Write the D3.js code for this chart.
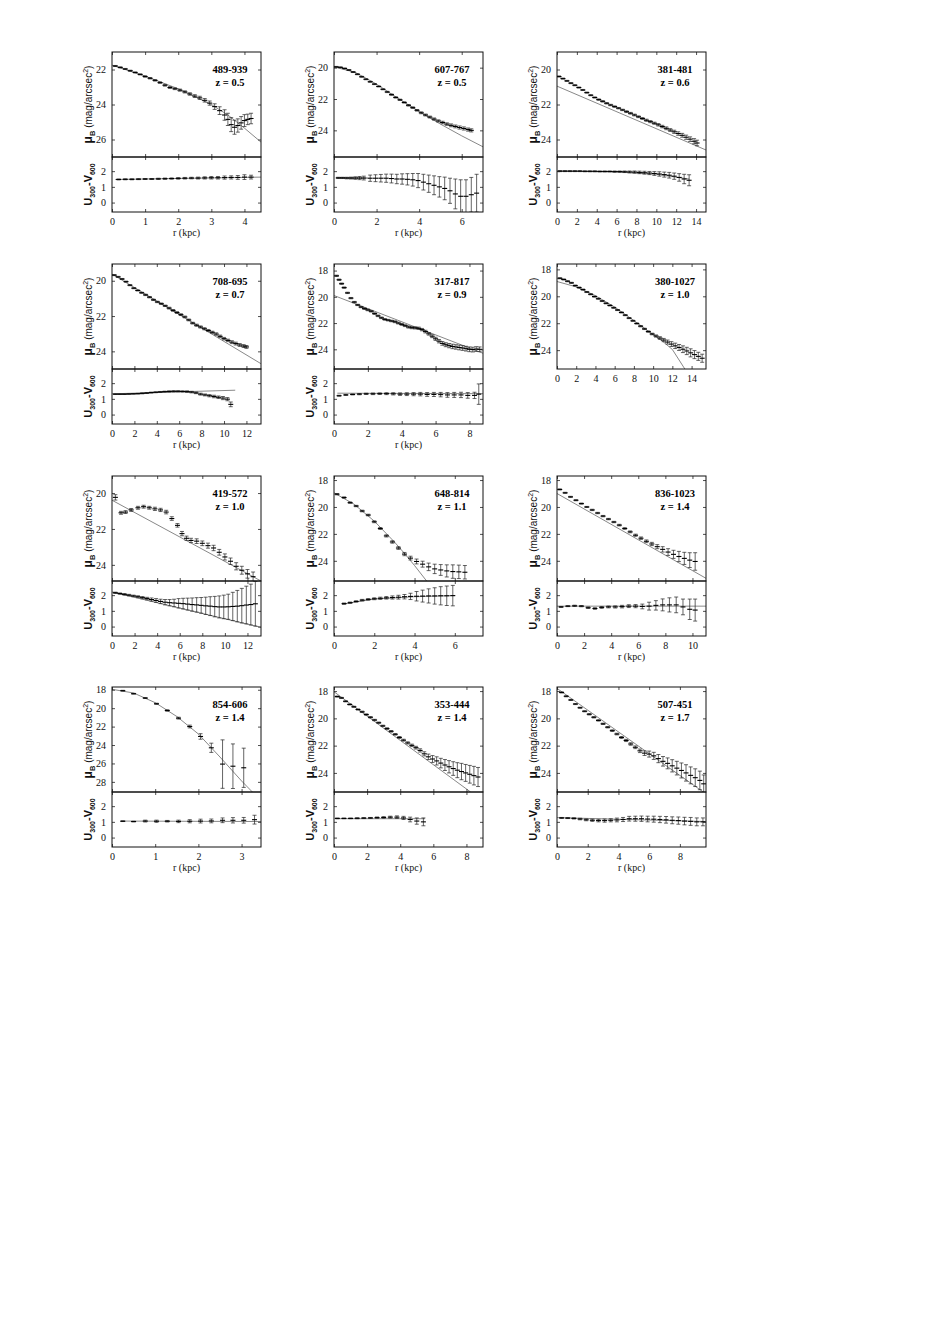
<!DOCTYPE html>
<html>
<head>
<meta charset="utf-8">
<script src="https://cdn.jsdelivr.net/npm/d3@7"></script>
<style>
  body { margin: 0; background: #fff; }
</style>
</head>
<body>
<svg id="main" width="926" height="1325"></svg>
<script>
// surface brightness profiles: [r (kpc), mu_B, error]
const prof489 = [[0.1,21.8,0.03],[0.25,21.88,0.03],[0.4,21.97,0.03],[0.55,22.07,0.03],[0.7,22.17,0.03],[0.85,22.28,0.03],[1.0,22.4,0.04],[1.15,22.5,0.04],[1.3,22.62,0.04],[1.45,22.75,0.04],[1.6,22.9,0.05],[1.75,23.03,0.05],[1.9,23.1,0.05],[2.05,23.18,0.06],[2.2,23.28,0.06],[2.35,23.4,0.07],[2.5,23.52,0.08],[2.65,23.62,0.09],[2.8,23.76,0.1],[2.95,23.92,0.12],[3.1,24.12,0.16],[3.25,24.35,0.22],[3.4,24.6,0.3],[3.5,24.85,0.35],[3.6,25.15,0.4],[3.7,25.3,0.4],[3.8,25.2,0.38],[3.9,25.05,0.36],[4.0,24.92,0.34],[4.1,24.85,0.3],[4.2,24.8,0.3]];
const prof607 = [[0.1,19.95,0.03],[0.3,19.98,0.03],[0.5,20.05,0.03],[0.7,20.15,0.03],[0.9,20.28,0.03],[1.1,20.42,0.03],[1.3,20.58,0.03],[1.5,20.74,0.03],[1.7,20.9,0.03],[1.9,21.05,0.03],[2.1,21.2,0.03],[2.3,21.38,0.03],[2.5,21.55,0.04],[2.7,21.72,0.04],[2.9,21.9,0.04],[3.1,22.05,0.04],[3.3,22.22,0.04],[3.5,22.4,0.05],[3.7,22.55,0.05],[3.9,22.72,0.05],[4.1,22.88,0.06],[4.3,23.02,0.06],[4.5,23.15,0.06],[4.7,23.28,0.07],[4.9,23.4,0.07],[5.1,23.5,0.08],[5.3,23.6,0.08],[5.5,23.68,0.09],[5.7,23.75,0.09],[5.9,23.82,0.1],[6.1,23.88,0.1],[6.3,23.95,0.1],[6.45,24.0,0.1]];
const prof381 = [[0.2,20.4,0.03],[0.6,20.52,0.03],[1.0,20.65,0.03],[1.4,20.78,0.03],[1.8,20.9,0.03],[2.2,21.03,0.03],[2.6,21.17,0.03],[3.0,21.32,0.03],[3.4,21.47,0.03],[3.8,21.6,0.03],[4.2,21.72,0.04],[4.6,21.82,0.04],[5.0,21.93,0.04],[5.4,22.03,0.04],[5.8,22.12,0.04],[6.2,22.21,0.04],[6.6,22.31,0.04],[7.0,22.41,0.05],[7.4,22.5,0.05],[7.8,22.6,0.05],[8.2,22.7,0.05],[8.6,22.8,0.05],[9.0,22.9,0.06],[9.4,22.98,0.06],[9.8,23.07,0.06],[10.2,23.16,0.07],[10.6,23.26,0.07],[11.0,23.36,0.08],[11.4,23.46,0.08],[11.8,23.56,0.09],[12.2,23.66,0.1],[12.6,23.76,0.11],[13.0,23.87,0.12],[13.4,23.98,0.13],[13.8,24.1,0.15],[14.1,24.2,0.16]];
const prof708 = [[0.2,19.68,0.03],[0.55,19.78,0.03],[0.9,19.9,0.03],[1.25,20.05,0.03],[1.6,20.25,0.03],[1.95,20.42,0.03],[2.3,20.55,0.03],[2.65,20.68,0.03],[3.0,20.8,0.04],[3.35,20.93,0.04],[3.7,21.08,0.04],[4.05,21.2,0.04],[4.4,21.3,0.04],[4.75,21.42,0.04],[5.1,21.55,0.05],[5.45,21.68,0.05],[5.8,21.8,0.05],[6.15,21.92,0.05],[6.5,22.05,0.05],[6.85,22.22,0.05],[7.2,22.4,0.05],[7.55,22.52,0.06],[7.9,22.62,0.06],[8.25,22.72,0.06],[8.6,22.82,0.06],[8.95,22.92,0.06],[9.3,23.02,0.07],[9.65,23.15,0.07],[10.0,23.28,0.07],[10.35,23.38,0.07],[10.7,23.48,0.08],[11.05,23.56,0.08],[11.4,23.64,0.08],[11.75,23.7,0.08],[12.0,23.75,0.08]];
const prof317 = [[0.15,18.4,0.05],[0.3,18.7,0.05],[0.45,19.0,0.05],[0.6,19.3,0.05],[0.8,19.7,0.05],[1.0,20.1,0.05],[1.2,20.4,0.05],[1.4,20.62,0.05],[1.6,20.78,0.05],[1.8,20.9,0.06],[2.0,21.0,0.06],[2.2,21.1,0.06],[2.4,21.28,0.06],[2.6,21.45,0.06],[2.8,21.6,0.06],[3.0,21.72,0.06],[3.2,21.78,0.06],[3.4,21.84,0.06],[3.6,21.9,0.07],[3.8,22.0,0.07],[4.0,22.1,0.07],[4.2,22.2,0.07],[4.4,22.3,0.08],[4.6,22.35,0.08],[4.8,22.37,0.08],[5.0,22.4,0.09],[5.2,22.5,0.09],[5.4,22.65,0.1],[5.6,22.82,0.1],[5.8,23.0,0.11],[6.0,23.2,0.12],[6.2,23.38,0.13],[6.4,23.55,0.14],[6.6,23.65,0.15],[6.8,23.72,0.16],[7.0,23.78,0.17],[7.2,23.82,0.17],[7.4,23.86,0.18],[7.6,23.9,0.18],[7.8,23.95,0.18],[8.0,24.0,0.18],[8.2,24.02,0.18],[8.4,23.98,0.18],[8.6,24.0,0.18]];
const prof380 = [[0.3,18.66,0.04],[0.7,18.75,0.04],[1.1,18.88,0.04],[1.5,19.0,0.04],[1.9,19.2,0.04],[2.3,19.35,0.04],[2.7,19.5,0.04],[3.1,19.68,0.04],[3.5,19.85,0.04],[3.9,20.02,0.04],[4.3,20.18,0.04],[4.7,20.35,0.04],[5.1,20.52,0.04],[5.5,20.68,0.04],[5.9,20.85,0.04],[6.3,21.02,0.04],[6.7,21.2,0.04],[7.1,21.4,0.04],[7.5,21.62,0.04],[7.9,21.82,0.04],[8.3,22.02,0.04],[8.7,22.22,0.05],[9.1,22.42,0.05],[9.5,22.62,0.05],[9.9,22.8,0.06],[10.3,22.95,0.08],[10.7,23.1,0.1],[11.1,23.25,0.12],[11.5,23.4,0.15],[11.9,23.55,0.18],[12.3,23.68,0.2],[12.7,23.8,0.22],[13.1,23.93,0.25],[13.5,24.06,0.27],[13.9,24.2,0.3],[14.3,24.33,0.3],[14.7,24.46,0.3],[15.1,24.6,0.3]];
const prof419 = [[0.3,20.24,0.15],[0.8,21.1,0.08],[1.2,21.06,0.08],[1.7,20.94,0.08],[2.3,20.82,0.08],[2.8,20.76,0.08],[3.3,20.82,0.08],[3.8,20.88,0.09],[4.3,20.94,0.09],[4.8,21.06,0.1],[5.3,21.42,0.1],[5.8,21.8,0.1],[6.2,22.26,0.12],[6.6,22.52,0.12],[7.0,22.64,0.12],[7.5,22.68,0.13],[8.0,22.8,0.13],[8.5,22.93,0.14],[9.0,23.06,0.15],[9.5,23.3,0.16],[10.0,23.56,0.17],[10.5,23.8,0.18],[11.0,24.08,0.2],[11.5,24.3,0.22],[12.0,24.5,0.24],[12.5,24.66,0.26]];
const prof648 = [[0.15,19.05,0.05],[0.5,19.3,0.05],[0.8,19.68,0.05],[1.1,19.93,0.05],[1.4,20.3,0.06],[1.7,20.6,0.06],[2.0,21.1,0.07],[2.3,21.6,0.07],[2.6,22.15,0.08],[2.9,22.6,0.09],[3.2,23.05,0.1],[3.5,23.5,0.12],[3.8,23.8,0.14],[4.1,24.05,0.18],[4.4,24.25,0.22],[4.7,24.45,0.28],[5.0,24.6,0.35],[5.3,24.68,0.4],[5.6,24.75,0.45],[5.9,24.8,0.5],[6.2,24.82,0.5],[6.5,24.85,0.5]];
const prof836 = [[0.2,18.7,0.04],[0.6,18.95,0.04],[1.0,19.25,0.04],[1.4,19.5,0.04],[1.8,19.75,0.04],[2.2,20.0,0.04],[2.6,20.22,0.05],[3.0,20.45,0.05],[3.4,20.68,0.05],[3.8,20.9,0.05],[4.2,21.12,0.05],[4.6,21.35,0.06],[5.0,21.6,0.06],[5.4,21.85,0.07],[5.8,22.1,0.08],[6.2,22.32,0.09],[6.6,22.55,0.1],[7.0,22.75,0.12],[7.4,22.95,0.15],[7.8,23.15,0.2],[8.2,23.35,0.25],[8.6,23.52,0.3],[9.0,23.68,0.38],[9.4,23.82,0.45],[9.8,23.95,0.55],[10.2,24.05,0.65]];
const prof854 = [[0.25,18.1,0.04],[0.5,18.43,0.04],[0.77,18.9,0.05],[1.03,19.52,0.06],[1.28,20.25,0.08],[1.54,21.08,0.1],[1.8,21.99,0.15],[2.05,23.07,0.3],[2.3,24.3,0.5],[2.56,26.07,2.63],[2.8,26.3,2.42],[3.05,26.47,2.13]];
const prof353 = [[0.2,18.4,0.04],[0.45,18.5,0.04],[0.7,18.75,0.04],[0.95,18.98,0.04],[1.2,19.15,0.04],[1.45,19.35,0.04],[1.7,19.52,0.05],[1.95,19.72,0.05],[2.2,19.92,0.05],[2.45,20.12,0.05],[2.7,20.32,0.05],[2.95,20.55,0.05],[3.2,20.75,0.06],[3.45,20.95,0.06],[3.7,21.17,0.06],[3.95,21.4,0.07],[4.2,21.6,0.07],[4.45,21.8,0.08],[4.7,21.98,0.09],[4.95,22.15,0.1],[5.2,22.35,0.12],[5.45,22.6,0.15],[5.7,22.82,0.2],[5.95,22.98,0.25],[6.2,23.12,0.3],[6.45,23.28,0.35],[6.7,23.42,0.4],[6.95,23.55,0.45],[7.2,23.68,0.5],[7.45,23.8,0.55],[7.7,23.9,0.6],[7.95,24.0,0.62],[8.2,24.1,0.65],[8.45,24.2,0.68],[8.7,24.3,0.7]];
const prof507 = [[0.3,18.1,0.04],[0.6,18.38,0.04],[0.9,18.65,0.04],[1.2,18.95,0.04],[1.5,19.22,0.04],[1.8,19.48,0.04],[2.1,19.7,0.05],[2.4,19.92,0.05],[2.7,20.15,0.05],[3.0,20.4,0.05],[3.3,20.65,0.05],[3.6,20.9,0.06],[3.9,21.15,0.06],[4.2,21.4,0.07],[4.5,21.62,0.08],[4.8,21.88,0.09],[5.1,22.12,0.1],[5.4,22.38,0.13],[5.7,22.55,0.17],[6.0,22.62,0.22],[6.3,22.75,0.26],[6.6,22.95,0.3],[6.9,23.15,0.35],[7.2,23.3,0.4],[7.5,23.48,0.45],[7.8,23.65,0.5],[8.1,23.82,0.55],[8.4,24.0,0.6],[8.7,24.18,0.62],[9.0,24.35,0.65],[9.3,24.55,0.68],[9.55,24.8,0.65]];

// model fits to the profiles: [r, mu_B]
const fit489 = [[0,21.75],[1,22.38],[2,23.1],[3,24.0],[3.5,24.6],[4,25.35],[4.5,26.15]];
const fit607 = [[0,19.95],[1,20.3],[2,21.05],[3,21.95],[4,22.8],[5,23.6],[6,24.35],[7,25.05]];
const fit381 = [[0,20.95],[15,24.6]];
const fit708 = [[0,19.62],[13.3,24.7]];
const fit317 = [[0,19.9],[8.8,24.3]];
const fit380 = [[0,18.9],[2,19.3],[4,19.95],[6,20.8],[8,21.8],[10,22.85],[11,23.35],[12,23.95],[13.3,25.4]];
const fit419 = [[0,20.4],[13.2,24.9]];
const fit648 = [[0,18.95],[1,19.8],[2,21.05],[3,22.6],[3.5,23.45],[4,24.35],[4.6,25.5]];
const fit836 = [[0,19.0],[11,25.3]];
const fit854 = [[0,17.95],[0.5,18.35],[1,19.4],[1.5,20.9],[2,22.8],[2.5,25.3],[3,27.9],[3.25,29.1]];
const fit353 = [[0,18.05],[8.25,25.4]];
const fit507 = [[0,17.8],[9.55,25.42]];

// colour profiles U300-V600: [r, colour, error]
const col489 = [[0.2,1.47,0.03],[0.4,1.48,0.03],[0.6,1.48,0.03],[0.8,1.49,0.03],[1.0,1.5,0.03],[1.2,1.5,0.03],[1.4,1.51,0.04],[1.6,1.52,0.04],[1.8,1.53,0.04],[2.0,1.54,0.05],[2.2,1.55,0.05],[2.4,1.56,0.05],[2.6,1.56,0.06],[2.8,1.57,0.07],[3.0,1.58,0.08],[3.2,1.58,0.08],[3.4,1.59,0.1],[3.6,1.6,0.1],[3.8,1.6,0.12],[4.0,1.62,0.15],[4.2,1.62,0.12]];
const col607 = [[0.2,1.57,0.04],[0.4,1.57,0.04],[0.6,1.56,0.05],[0.8,1.56,0.06],[1.0,1.56,0.08],[1.2,1.56,0.1],[1.4,1.56,0.12],[1.7,1.55,0.2],[1.95,1.55,0.22],[2.2,1.55,0.24],[2.45,1.55,0.26],[2.7,1.53,0.28],[2.95,1.5,0.3],[3.2,1.5,0.33],[3.45,1.48,0.36],[3.7,1.45,0.4],[3.95,1.4,0.45],[4.2,1.3,0.5],[4.45,1.2,0.55],[4.7,1.1,0.6],[4.95,1.0,0.65],[5.2,0.9,0.72],[5.45,0.75,0.8],[5.7,0.55,0.95],[5.95,0.4,1.05],[6.2,0.4,1.05],[6.45,0.5,1.1],[6.7,0.6,1.2]];
const col381 = [[0.3,2.0,0.03],[0.8,2.0,0.03],[1.3,2.0,0.03],[1.8,2.0,0.03],[2.3,2.0,0.03],[2.8,1.99,0.03],[3.3,1.99,0.03],[3.8,1.99,0.03],[4.3,1.98,0.03],[4.8,1.98,0.03],[5.3,1.98,0.03],[5.8,1.97,0.04],[6.3,1.97,0.04],[6.8,1.96,0.05],[7.3,1.95,0.06],[7.8,1.94,0.07],[8.3,1.92,0.08],[8.8,1.9,0.09],[9.3,1.88,0.1],[9.8,1.85,0.12],[10.3,1.82,0.14],[10.8,1.78,0.16],[11.3,1.74,0.18],[11.8,1.68,0.2],[12.3,1.6,0.24],[12.8,1.5,0.3],[13.3,1.42,0.35]];
const col708 = [[0.3,1.3,0.02],[0.7,1.3,0.02],[1.1,1.3,0.02],[1.5,1.31,0.02],[1.9,1.32,0.02],[2.3,1.33,0.02],[2.7,1.35,0.03],[3.1,1.37,0.03],[3.5,1.4,0.03],[3.9,1.42,0.03],[4.3,1.44,0.03],[4.7,1.46,0.03],[5.1,1.47,0.04],[5.5,1.48,0.04],[5.9,1.48,0.04],[6.3,1.47,0.04],[6.7,1.46,0.05],[7.1,1.43,0.05],[7.5,1.38,0.05],[7.9,1.3,0.06],[8.3,1.25,0.06],[8.7,1.2,0.07],[9.1,1.15,0.08],[9.5,1.1,0.08],[9.9,1.05,0.1],[10.3,0.98,0.1],[10.6,0.65,0.15]];
const col317 = [[0.3,1.2,0.03],[0.7,1.25,0.03],[1.1,1.28,0.03],[1.5,1.3,0.04],[1.9,1.32,0.04],[2.3,1.32,0.05],[2.7,1.33,0.05],[3.1,1.33,0.06],[3.5,1.32,0.07],[3.9,1.3,0.08],[4.3,1.3,0.09],[4.7,1.3,0.1],[5.1,1.3,0.11],[5.5,1.28,0.12],[5.9,1.28,0.13],[6.3,1.27,0.14],[6.7,1.25,0.15],[7.1,1.25,0.16],[7.5,1.25,0.17],[7.9,1.22,0.18],[8.3,1.22,0.2],[8.55,1.3,0.65]];
const col419 = [[0.3,2.15,0.04],[0.7,2.1,0.04],[1.1,2.05,0.05],[1.5,2.0,0.05],[1.9,1.95,0.05],[2.3,1.9,0.06],[2.7,1.84,0.07],[3.1,1.78,0.08],[3.5,1.72,0.1],[3.9,1.66,0.12],[4.3,1.6,0.14],[4.7,1.55,0.17],[5.1,1.52,0.2],[5.5,1.5,0.24],[5.9,1.48,0.3],[6.3,1.46,0.34],[6.7,1.43,0.38],[7.1,1.4,0.42],[7.5,1.38,0.46],[7.9,1.35,0.5],[8.3,1.32,0.55],[8.7,1.3,0.6],[9.1,1.27,0.65],[9.5,1.25,0.7],[9.9,1.25,0.75],[10.3,1.26,0.8],[10.7,1.28,0.9],[11.1,1.3,1.0],[11.5,1.33,1.1],[11.9,1.37,1.2],[12.3,1.4,1.3],[12.7,1.45,1.42]];
const col648 = [[0.5,1.46,0.04],[0.8,1.52,0.04],[1.1,1.6,0.04],[1.4,1.68,0.05],[1.7,1.73,0.05],[2.0,1.77,0.06],[2.3,1.8,0.07],[2.6,1.83,0.08],[2.9,1.85,0.1],[3.2,1.87,0.12],[3.5,1.9,0.14],[3.8,1.92,0.2],[4.1,1.93,0.3],[4.4,1.94,0.38],[4.7,1.95,0.45],[5.0,1.95,0.52],[5.3,1.96,0.58],[5.6,1.96,0.62],[5.9,1.97,0.65]];
const col836 = [[0.3,1.25,0.03],[0.8,1.3,0.03],[1.3,1.32,0.04],[1.8,1.3,0.04],[2.3,1.2,0.05],[2.8,1.15,0.05],[3.3,1.22,0.06],[3.8,1.25,0.06],[4.3,1.25,0.07],[4.8,1.27,0.08],[5.3,1.3,0.09],[5.8,1.3,0.1],[6.3,1.28,0.15],[6.8,1.3,0.25],[7.3,1.35,0.3],[7.8,1.38,0.38],[8.3,1.38,0.45],[8.8,1.38,0.5],[9.3,1.25,0.5],[9.8,1.1,0.65],[10.2,1.05,0.7]];
const col854 = [[0.25,1.04,0.02],[0.5,1.02,0.02],[0.77,1.05,0.06],[1.03,1.04,0.07],[1.28,1.04,0.05],[1.54,1.03,0.08],[1.8,1.04,0.1],[2.05,1.05,0.12],[2.3,1.06,0.12],[2.56,1.1,0.15],[2.8,1.1,0.17],[3.05,1.1,0.18],[3.3,1.14,0.28]];
const col353 = [[0.2,1.22,0.02],[0.6,1.22,0.02],[1.0,1.22,0.02],[1.4,1.23,0.03],[1.8,1.24,0.03],[2.2,1.25,0.03],[2.6,1.27,0.04],[3.0,1.28,0.05],[3.4,1.3,0.06],[3.8,1.3,0.08],[4.2,1.25,0.1],[4.6,1.15,0.15],[5.0,1.05,0.2],[5.4,1.0,0.25]];
const col507 = [[0.3,1.25,0.03],[0.7,1.24,0.03],[1.1,1.22,0.04],[1.5,1.18,0.05],[1.9,1.13,0.06],[2.3,1.1,0.07],[2.7,1.08,0.08],[3.1,1.08,0.1],[3.5,1.1,0.1],[3.9,1.12,0.12],[4.3,1.15,0.13],[4.7,1.2,0.15],[5.1,1.2,0.16],[5.5,1.2,0.17],[5.9,1.18,0.18],[6.3,1.17,0.19],[6.7,1.15,0.2],[7.1,1.13,0.21],[7.5,1.1,0.22],[7.9,1.08,0.23],[8.3,1.05,0.24],[8.7,1.03,0.25],[9.1,1.0,0.25],[9.5,1.0,0.25]];

// model colour lines: [r, colour]
const cfit489 = [[0.1,1.47],[4.5,1.62]];
const cfit607 = [[0.1,1.58],[1.6,1.56]];
const cfit381 = [[0,2.0],[6,1.95],[10,1.8],[13.3,1.5]];
const cfit708 = [[0,1.32],[11,1.55]];
const cfit317 = [[0.2,1.36],[8.8,1.33]];
const cfit419 = [[0,2.2],[13.2,-0.05]];
const cfit648 = [[0.4,1.42],[2,1.75],[4,1.9],[6,1.97]];
const cfit836 = [[0,1.3],[11,1.3]];
const cfit854 = [[0.2,1.05],[3.45,1.02]];
const cfit353 = [[0.1,1.2],[5.5,1.2]];
const cfit507 = [[0,1.27],[9.7,1.02]];

// panel labels and axes
const galaxyIds = ['489-939', '607-767', '381-481', '708-695', '317-817', '380-1027', '419-572', '648-814', '836-1023', '854-606', '353-444', '507-451'];
const redshifts = ['0.5', '0.5', '0.6', '0.7', '0.9', '1.0', '1.0', '1.1', '1.4', '1.4', '1.4', '1.7'];
const rMax = [4.5, 7, 15, 13.3, 8.8, 15.5, 13.2, 7.4, 11, 3.45, 9, 9.7];
const rTicks = [[0,1,2,3,4], [0,2,4,6], [0,2,4,6,8,10,12,14], [0,2,4,6,8,10,12], [0,2,4,6,8], [0,2,4,6,8,10,12,14],
                [0,2,4,6,8,10,12], [0,2,4,6], [0,2,4,6,8,10], [0,1,2,3], [0,2,4,6,8], [0,2,4,6,8]];
const muRange = [[21,27], [19,25.7], [19,25], [19.05,25], [17.5,25.5], [17.6,25.4], [19.05,24.9], [17.7,25.5], [17.7,25.5], [17.7,29.1], [17.7,25.4], [17.7,25.4]];
const muTicks = [[22,24,26], [20,22,24], [20,22,24], [20,22,24], [18,20,22,24], [18,20,22,24], [20,22,24], [18,20,22,24], [18,20,22,24], [18,20,22,24,26,28], [18,20,22,24], [18,20,22,24]];
const colRange = [-0.6, 2.9];
const colTicks = [0, 1, 2];

const profiles = [prof489, prof607, prof381, prof708, prof317, prof380, prof419, prof648, prof836, prof854, prof353, prof507];
const fits = [fit489, fit607, fit381, fit708, fit317, fit380, fit419, fit648, fit836, fit854, fit353, fit507];
const colours = [col489, col607, col381, col708, col317, null, col419, col648, col836, col854, col353, col507];
const colourFits = [cfit489, cfit607, cfit381, cfit708, cfit317, null, cfit419, cfit648, cfit836, cfit854, cfit353, cfit507];

const colLeft = [112, 334, 557];
const rowTop = [52, 264, 476, 687];
const panelW = 149;
const topH = 105;
const botH = 55;
const serif = "'Liberation Serif', 'Times New Roman', serif";
const sans = "'Liberation Sans', Arial, sans-serif";
const fmt = d3.format('~g');

const svg = d3.select('#main');
svg.append('rect').attr('width', 926).attr('height', 1325).attr('fill', '#fff');
const defs = svg.append('defs');

function errorPath(d, x, y) {
    const cx = x(d[0]);
    const y1 = y(d[1] - d[2]);
    const y2 = y(d[1] + d[2]);
    const c = 2;
    return `M${cx},${y1}V${y2}M${cx - c},${y1}H${cx + c}M${cx - c},${y2}H${cx + c}`;
}

function drawBox(g, id, i, x, y, top, h, pts, fit, ticks) {
    const left = x.range()[0];
    defs.append('clipPath').attr('id', id)
        .append('rect').attr('x', left).attr('y', top).attr('width', panelW).attr('height', h);
    const plot = g.append('g').attr('clip-path', `url(#${id})`);

    // model line
    plot.append('path')
        .datum(fit)
        .attr('d', d3.line().x(d => x(d[0])).y(d => y(d[1])))
        .attr('fill', 'none')
        .attr('stroke', '#6a6a6a')
        .attr('stroke-width', 0.8);

    // error bars
    plot.selectAll('path.err')
        .data(pts)
        .join('path')
        .attr('class', 'err')
        .attr('d', d => errorPath(d, x, y))
        .attr('fill', 'none')
        .attr('stroke', '#222')
        .attr('stroke-width', 0.7);

    // data points drawn as short dashes
    plot.selectAll('line.pt')
        .data(pts)
        .join('line')
        .attr('class', 'pt')
        .attr('x1', d => x(d[0]) - 2.5)
        .attr('x2', d => x(d[0]) + 2.5)
        .attr('y1', d => y(d[1]))
        .attr('y2', d => y(d[1]))
        .attr('stroke', '#000')
        .attr('stroke-width', 1.1);

    // ticks on all four sides, labels on the left
    const xs = rTicks[i];
    const axes = [
        [d3.axisLeft(y).tickValues(ticks).tickSizeInner(-3).tickPadding(6).tickFormat(fmt), `translate(${left},0)`],
        [d3.axisRight(y).tickValues(ticks).tickSizeInner(-3).tickFormat(''), `translate(${left + panelW},0)`],
        [d3.axisTop(x).tickValues(xs).tickSizeInner(-3).tickFormat(''), `translate(0,${top})`],
        [d3.axisBottom(x).tickValues(xs).tickSizeInner(-3).tickFormat(''), `translate(0,${top + h})`]
    ];
    axes.forEach(([ax, tr]) => {
        const a = g.append('g').attr('transform', tr).call(ax.tickSizeOuter(0));
        a.select('.domain').remove();
        a.selectAll('line').attr('stroke', '#222').attr('stroke-width', 0.8);
        a.selectAll('text').attr('font-family', serif).attr('font-size', 10).attr('fill', '#111');
    });

    g.append('rect')
        .attr('x', left).attr('y', top).attr('width', panelW).attr('height', h)
        .attr('fill', 'none').attr('stroke', '#111').attr('stroke-width', 1);
}

galaxyIds.forEach((name, i) => {
    const left = colLeft[i % 3];
    const top = rowTop[Math.floor(i / 3)];
    const g = svg.append('g');

    const x = d3.scaleLinear().domain([0, rMax[i]]).range([left, left + panelW]);
    const yMu = d3.scaleLinear().domain(muRange[i]).range([top, top + topH]);
    drawBox(g, `clip-mu-${i}`, i, x, yMu, top, topH, profiles[i], fits[i], muTicks[i]);

    // galaxy id and redshift
    const labelX = left + panelW - 31;
    g.append('text')
        .attr('x', labelX).attr('y', top + 21)
        .attr('text-anchor', 'middle')
        .attr('font-family', serif).attr('font-weight', 'bold').attr('font-size', 10.5)
        .text(name);
    g.append('text')
        .attr('x', labelX).attr('y', top + 34)
        .attr('text-anchor', 'middle')
        .attr('font-family', serif).attr('font-weight', 'bold').attr('font-size', 10.5)
        .text(`z = ${redshifts[i]}`);

    // mu_B axis title
    const muLab = g.append('text')
        .attr('transform', `translate(${left - 20},${top + topH / 2}) rotate(-90)`)
        .attr('text-anchor', 'middle')
        .attr('font-family', sans).attr('font-size', 10).attr('fill', '#111');
    muLab.append('tspan').attr('font-weight', 'bold').attr('font-size', 12).text('μ');
    muLab.append('tspan').attr('font-weight', 'bold').attr('font-size', 7.5).attr('dy', 2.5).text('B');
    muLab.append('tspan').attr('dy', -2.5).text(' (mag/arcsec');
    muLab.append('tspan').attr('font-size', 7).attr('dy', -4).text('2');
    muLab.append('tspan').attr('dy', 4).text(')');

    let bottom = top + topH;
    if (colours[i]) {
        const yCol = d3.scaleLinear().domain(colRange).range([bottom + botH, bottom]);
        drawBox(g, `clip-col-${i}`, i, x, yCol, bottom, botH, colours[i], colourFits[i], colTicks);

        const cLab = g.append('text')
            .attr('transform', `translate(${left - 20},${bottom + botH / 2}) rotate(-90)`)
            .attr('text-anchor', 'middle')
            .attr('font-family', sans).attr('font-weight', 'bold').attr('font-size', 11).attr('fill', '#111');
        cLab.append('tspan').text('U');
        cLab.append('tspan').attr('font-size', 7).attr('dy', 2.5).text('300');
        cLab.append('tspan').attr('dy', -2.5).text('-V');
        cLab.append('tspan').attr('font-size', 7).attr('dy', 2.5).text('600');
        bottom += botH;
    }

    // r tick labels under the lowest box
    const xAx = g.append('g')
        .attr('transform', `translate(0,${bottom})`)
        .call(d3.axisBottom(x).tickValues(rTicks[i]).tickSize(0).tickPadding(6).tickFormat(fmt));
    xAx.select('.domain').remove();
    xAx.selectAll('text').attr('font-family', serif).attr('font-size', 10).attr('fill', '#111');

    if (colours[i]) {
        g.append('text')
            .attr('x', left + panelW / 2).attr('y', bottom + 23.5)
            .attr('text-anchor', 'middle')
            .attr('font-family', serif).attr('font-size', 10).attr('fill', '#111')
            .text('r (kpc)');
    }
});
</script>
</body>
</html>
